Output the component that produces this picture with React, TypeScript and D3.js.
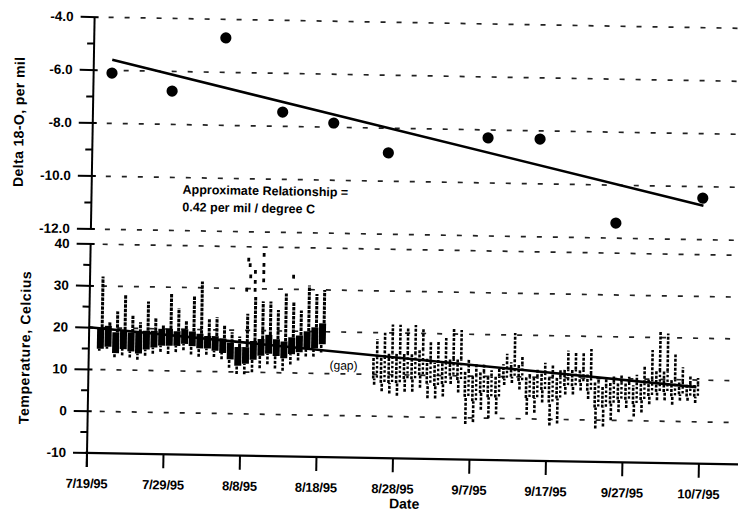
import React from 'react';
import * as d3 from 'd3';

const W = 738;
const H = 514;

// delta 18-O grab samples, days after 7/19/95
const isoDay = [2.4, 10.3, 17.2, 24.8, 31.5, 38.7, 51.7, 58.5, 68.6, 79.9];
const isoValue = [-6.1, -6.74, -4.7, -7.46, -7.84, -8.93, -8.3, -8.31, -11.43, -10.43];
const isoFitDay = [2.4, 80];
const isoFitValue = [-5.6, -10.72];

// daily temperature summary (min, dense band low/high, peak), days after 7/19/95
const tempDay = [
  1, 2, 3, 4, 5, 6, 7, 8, 9, 10, 11, 12, 13, 14, 15, 16, 17, 18, 19, 20, 21, 22, 23, 24, 25, 26, 27, 28, 29, 30,
  37, 38, 39, 40, 41, 42, 43, 44, 45, 46, 47, 48, 49, 50, 51, 52, 53, 54, 55, 56, 57, 58, 59, 60, 61, 62, 63, 64, 65, 66, 67, 68, 69, 70, 71, 72, 73, 74, 75, 76, 77, 78, 79,
];
const tempMin = [
  14.5, 15, 13, 13.5, 13, 12.5, 13.5, 14, 14.5, 14, 14.5, 15, 14, 13.5, 14, 13.5, 13, 11, 9.5, 9.5, 10, 11, 12, 11, 10.5, 12, 13, 14, 14, 15,
  7.5, 6, 5.5, 5, 6, 6, 7, 4.5, 4.5, 5, 8, 6, -1.5, -1, 2, 0, 1, 8, 8.5, 7, 1, 1.5, 4, -1.5, -1, 6, 6, 7, 5, -2, -1.5, 0, 2, 3, 1, 2, 4, 5, 5, 4, 5, 5, 4.5,
];
const tempLow = [
  15, 15.5, 14, 15, 14.5, 14, 15, 15.5, 16, 16, 16, 16.5, 16, 15.5, 15.5, 15, 14.5, 13, 11.5, 12, 13, 14, 14.5, 14, 13.5, 14.5, 15, 16, 16, 17,
  9, 8, 8, 8, 9, 9, 10, 8, 7.5, 8, 10, 9, 5, 4, 6, 5, 5, 9.5, 10, 9, 5, 5, 7, 4, 5, 8, 8, 9, 7, 3, 3, 4, 5, 5, 4, 5, 6, 7, 7, 6, 6.5, 6, 6,
];
const tempHigh = [
  20, 20.5, 19, 19.5, 19, 19, 19.5, 19.5, 20, 20, 19.5, 20, 19.5, 19, 18.5, 18.5, 18, 17, 16, 16, 17.5, 18, 19, 18, 17.5, 18.5, 19, 20, 21, 22,
  14, 14, 15, 15, 15, 15, 16, 14, 13, 13, 14, 14, 11, 10, 11, 10, 10, 13, 13.5, 13, 10, 10, 11, 10, 10, 12, 12, 12, 11, 9, 8, 9, 9, 9, 8.5, 9, 10, 12, 12, 10, 9.5, 9, 9,
];
const tempMax = [
  32.3, 21.5, 24, 28, 23, 21.5, 26.5, 22.5, 21, 28.5, 25, 22, 28, 31.5, 22.5, 23, 21, 19.5, 18.5, 24, 28, 27, 27, 25, 29, 27, 25, 31, 29, 30,
  18.5, 20, 22, 22, 21.5, 22, 21, 18, 18, 19, 21.5, 21, 14, 13, 13, 11.5, 12, 15.5, 20.5, 15, 11, 12, 13.5, 13, 12, 16.5, 16, 16, 17, 10, 10, 10.5, 11, 10.5, 11, 13, 17, 21.5, 21, 16, 13, 11, 10.5,
];
const spikeDay = [20.7, 22.7, 22.7, 21.6, 22.7, 21.6, 22.7, 20.5, 21.6, 26.6, 20.9, 21.0];
const spikeTemp = [36.9, 38.1, 35.7, 34, 34, 31.6, 32, 29.7, 29.7, 33, 35.6, 32.9];
const tempFitDay = [0, 79.5];
const tempFitValue = [20.1, 8.3];

const isoTicks = [-4, -6, -8, -10, -12];
const isoMinor = [-5, -7, -9, -11];
const tempTicks = [40, 30, 20, 10, 0, -10];
const tempMinor = [35, 25, 15, 5, -5];
const dateTicks = ['7/19/95', '7/29/95', '8/8/95', '8/18/95', '8/28/95', '9/7/95', '9/17/95', '9/27/95', '10/7/95'];

const font = '"Liberation Sans", Arial, Helvetica, sans-serif';

export default function App() {
  const parse = d3.timeParse('%m/%d/%y');
  const start = parse('7/19/95') as Date;
  const at = (d: number) => new Date(start.getTime() + d * 864e5);

  const x = d3.scaleTime().domain([start, at(80)]).range([87, 699]);
  const yIso = d3.scaleLinear().domain([-12, -4]).range([229, 17]);
  const yTemp = d3.scaleLinear().domain([-10, 40]).range([453, 244]);
  const x0 = x(start);
  const gridEnd = 737;

  const isoFit = d3.line<number>()
    .x(d => x(at(isoFitDay[d])))
    .y(d => yIso(isoFitValue[d]))(d3.range(isoFitDay.length));
  const tempFit = d3.line<number>()
    .x(d => x(at(tempFitDay[d])))
    .y(d => yTemp(tempFitValue[d]))(d3.range(tempFitDay.length));

  return (
    <svg width={W} height={H} style={{ position: 'absolute', left: 0, top: 0, background: '#fff' }} fontFamily={font}>
      <g transform={`rotate(1 ${x0} ${yTemp(-10)})`}>
        {/* gridlines */}
        {isoTicks.map(t => (
          <line key={'gi' + t} x1={x0 + 14} x2={gridEnd} y1={yIso(t)} y2={yIso(t)} stroke="#222" strokeWidth={1.7} strokeDasharray="5 11" />
        ))}
        {tempTicks.filter(t => t > -10).map(t => (
          <line key={'gt' + t} x1={x0 + 12} x2={gridEnd} y1={yTemp(t)} y2={yTemp(t)} stroke="#222" strokeWidth={1.7} strokeDasharray="5 11" />
        ))}

        {/* temperature record */}
        {tempDay.map((d, i) => {
          const cx = x(at(d + 0.5));
          const dense = d < 35;
          const yl = yTemp(tempLow[i]);
          const yh = yTemp(tempHigh[i]);
          return (
            <g key={'t' + d}>
              <line x1={cx - 1} x2={cx - 1} y1={yTemp(tempMin[i])} y2={yl} stroke="#000" strokeWidth={2.6} strokeDasharray="3 1.6" />
              {dense ? (
                <rect x={cx - 3.5} width={7} y={yh} height={yl - yh} fill="#000" />
              ) : (
                <>
                  <line x1={cx - 2} x2={cx - 2} y1={yl} y2={yh} stroke="#000" strokeWidth={2.6} strokeDasharray="3 1.4" />
                  <line x1={cx + 1.6} x2={cx + 1.6} y1={yl - 1} y2={yh} stroke="#000" strokeWidth={2.4} strokeDasharray="2.4 2.2" />
                </>
              )}
              <line x1={cx + 1.5} x2={cx + 1.5} y1={yh} y2={yTemp(tempMax[i])} stroke="#000" strokeWidth={dense ? 3 : 2.6} strokeDasharray={dense ? '3.5 1' : '3 1.5'} />
            </g>
          );
        })}
        {spikeDay.map((d, i) => (
          <rect key={'s' + i} x={x(at(d)) - 1.4} y={yTemp(spikeTemp[i]) - 2} width={2.8} height={3.8} fill="#000" />
        ))}
        <path d={tempFit ?? ''} stroke="#000" strokeWidth={2.6} fill="none" />
        <text x={328} y={365} fontSize={12} fill="#000">(gap)</text>

        {/* isotope samples */}
        <path d={isoFit ?? ''} stroke="#000" strokeWidth={2.6} fill="none" />
        {isoDay.map((d, i) => (
          <circle key={'c' + i} cx={x(at(d))} cy={yIso(isoValue[i])} r={5.6} fill="#000" />
        ))}
        <text x={178} y={192} fontSize={12.5} fontWeight="bold" fill="#000">Approximate Relationship =</text>
        <text x={178} y={209.5} fontSize={12.5} fontWeight="bold" fill="#000">0.42 per mil / degree C</text>

        {/* isotope axis */}
        <line x1={x0} x2={x0} y1={yIso(-4)} y2={yIso(-12)} stroke="#000" strokeWidth={2} />
        {isoTicks.map(t => (
          <g key={'ti' + t}>
            <line x1={x0 - 14} x2={x0 + 4} y1={yIso(t)} y2={yIso(t)} stroke="#000" strokeWidth={2} />
            <text x={x0 - 21} y={yIso(t) + 4.5} textAnchor="end" fontSize={13.5} fontWeight="bold">{t.toFixed(1)}</text>
          </g>
        ))}
        {isoMinor.map(t => (
          <line key={'mi' + t} x1={x0 - 7} x2={x0} y1={yIso(t)} y2={yIso(t)} stroke="#000" strokeWidth={2} />
        ))}
        <text transform={`translate(18 ${yIso(-8)}) rotate(-90)`} textAnchor="middle" fontSize={14} fontWeight="bold" letterSpacing={0.4}>Delta 18-O, per mil</text>

        {/* temperature axis */}
        <line x1={x0} x2={x0} y1={yTemp(40)} y2={yTemp(-10) + 14} stroke="#000" strokeWidth={2} />
        {tempTicks.map(t => (
          <g key={'tt' + t}>
            <line x1={x0 - 14} x2={x0 + 4} y1={yTemp(t)} y2={yTemp(t)} stroke="#000" strokeWidth={2} />
            <text x={x0 - 21} y={yTemp(t) + 4.5} textAnchor="end" fontSize={13.5} fontWeight="bold">{t}</text>
          </g>
        ))}
        {tempMinor.map(t => (
          <line key={'mt' + t} x1={x0 - 7} x2={x0} y1={yTemp(t)} y2={yTemp(t)} stroke="#000" strokeWidth={2} />
        ))}
        <text transform={`translate(28 ${yTemp(15)}) rotate(-90)`} textAnchor="middle" fontSize={14} fontWeight="bold" letterSpacing={0.6}>Temperature, Celcius</text>

        {/* date axis */}
        <line x1={x0 - 2} x2={742} y1={yTemp(-10)} y2={yTemp(-10)} stroke="#000" strokeWidth={2.2} />
        {dateTicks.map(s => {
          const tx = x(parse(s) as Date);
          return (
            <g key={s}>
              <line x1={tx} x2={tx} y1={yTemp(-10)} y2={yTemp(-10) + 14} stroke="#000" strokeWidth={2} />
              <text x={tx} y={yTemp(-10) + 35} textAnchor="middle" fontSize={13} fontWeight="bold" letterSpacing={-0.2}>{s}</text>
            </g>
          );
        })}
        <text x={405} y={503} textAnchor="middle" fontSize={14} fontWeight="bold">Date</text>
      </g>
    </svg>
  );
}
